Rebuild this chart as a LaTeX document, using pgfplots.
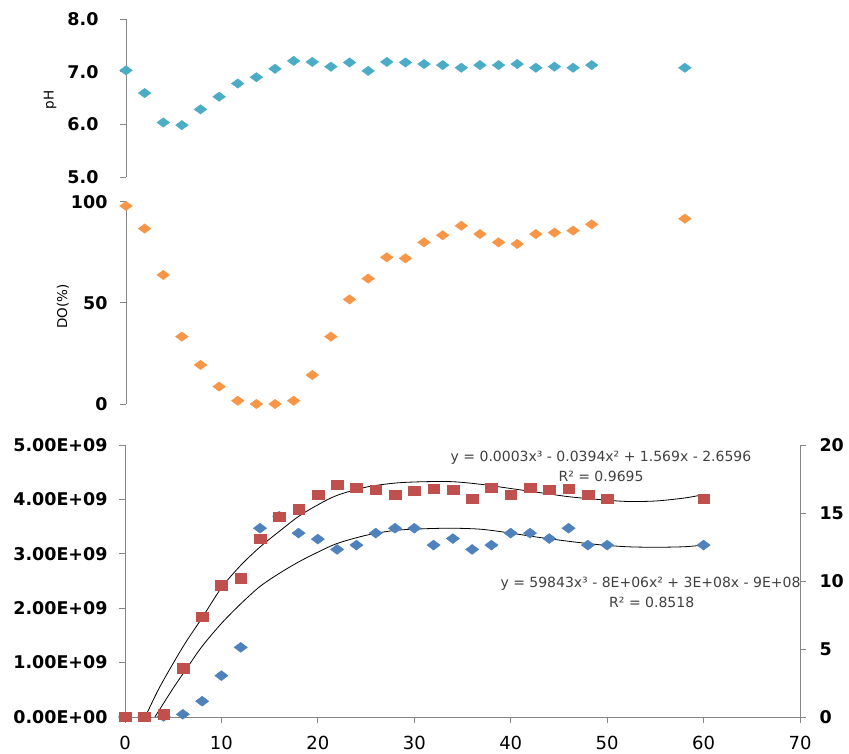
\documentclass[border=0pt]{standalone}
\usepackage{pgfplots}
\pgfplotsset{compat=1.18}
\usepackage{fontspec}
\setmainfont{DejaVu Sans}

\definecolor{phcyan}{RGB}{75,172,198}
\definecolor{doorange}{RGB}{247,150,70}
\definecolor{cellblue}{RGB}{79,129,189}
\definecolor{cellred}{RGB}{192,80,77}
\definecolor{axisgray}{RGB}{134,134,134}

\newcommand{\tickfont}{\fontsize{17.5bp}{20bp}\selectfont\bfseries}
\newcommand{\xtickfont}{\fontsize{18bp}{20bp}\selectfont}
\newcommand{\eqfont}{\fontsize{14bp}{16bp}\selectfont}
\newcommand{\labfont}{\fontsize{13.5bp}{15bp}\selectfont}

\pgfplotsset{
  panel/.style={
    scale only axis, enlargelimits=false, clip=false,
    axis line style={draw=axisgray, line width=0.9bp, -},
    every tick/.style={draw=axisgray, line width=0.9bp},
    tick align=outside, major tick length=6bp,
    /pgf/number format/assume math mode=true,
    xmin=0, xmax=70,
  },
}

% pH readings
\pgfplotstableread{
t   ph
0   7.03
2   6.60
4   6.04
6   5.99
8   6.29
10  6.53
12  6.78
14  6.90
16  7.06
18  7.21
20  7.19
22  7.10
24  7.18
26  7.02
28  7.19
30  7.18
32  7.15
34  7.13
36  7.08
38  7.13
40  7.13
42  7.15
44  7.08
46  7.10
48  7.08
50  7.13
60  7.08
}\phdata

% dissolved oxygen, percent saturation
\pgfplotstableread{
t   do
0   97.9
2   86.7
4   63.8
6   33.3
8   19.3
10  8.6
12  1.6
14  0
16  0
18  1.6
20  14.3
22  33.3
24  51.7
26  62.0
28  72.5
30  72.0
32  79.9
34  83.4
36  88.1
38  84.0
40  79.9
42  79.1
44  84.0
46  84.7
48  85.7
50  88.8
60  91.6
}\dodata

% cell counts (left axis) and second quantity (right axis)
\pgfplotstableread{
t   cells    right
0   0        0
2   0        0
4   0.01e9   0.2
6   0.05e9   3.58
8   0.29e9   7.38
10  0.76e9   9.70
12  1.28e9   10.2
14  3.47e9   13.1
16  3.69e9   14.73
18  3.38e9   15.29
20  3.27e9   16.37
22  3.08e9   17.06
24  3.16e9   16.86
26  3.38e9   16.69
28  3.47e9   16.37
30  3.47e9   16.64
32  3.16e9   16.80
34  3.28e9   16.69
36  3.08e9   16.05
38  3.16e9   16.86
40  3.38e9   16.35
42  3.38e9   16.86
44  3.28e9   16.69
46  3.47e9   16.79
48  3.16e9   16.37
50  3.16e9   16.05
60  3.16e9   16.05
}\growth

\begin{document}
\begin{tikzpicture}[x=1bp,y=1bp]
\path[use as bounding box] (0,0) rectangle (849,754);

% ---- pH ----
\begin{axis}[panel, at={(126bp,576.7bp)}, anchor=south west,
  width=652bp, height=158bp, ymin=5, ymax=8,
  hide x axis, axis y line*=left,
  ytick={5,6,7,8},
  yticklabel style={font=\tickfont, xshift=-18bp,
    /pgf/number format/.cd, fixed, fixed zerofill, precision=1}]
\addplot[only marks, mark=diamond*, mark size=4.7bp,
  mark options={xscale=1.8, fill=phcyan, draw=phcyan}] table[x=t, y=ph] {\phdata};
\end{axis}

% ---- DO ----
\begin{axis}[panel, at={(126bp,350bp)}, anchor=south west,
  width=652bp, height=202.3bp, ymin=0, ymax=100,
  hide x axis, axis y line*=left,
  ytick={0,50,100},
  yticklabel style={font=\tickfont, xshift=-9bp}]
\addplot[only marks, mark=diamond*, mark size=4.7bp,
  mark options={xscale=1.8, fill=doorange, draw=doorange}] table[x=t, y=do] {\dodata};
\end{axis}

% ---- growth, left axis ----
\begin{axis}[panel, at={(125bp,37bp)}, anchor=south west,
  width=675bp, height=272bp, ymin=0, ymax=5e9,
  axis x line*=bottom, axis y line*=left,
  xtick={0,10,...,70},
  xticklabel style={font=\xtickfont, yshift=-10bp},
  ytick={0,1e9,2e9,3e9,4e9,5e9},
  yticklabels={0.00E+00,1.00E+09,2.00E+09,3.00E+09,4.00E+09,5.00E+09},
  scaled y ticks=false,
  yticklabel style={font=\tickfont, xshift=-8bp}]
\addplot[only marks, mark=diamond*, mark size=5bp,
  mark options={xscale=1.77, fill=cellblue, draw=cellblue}] table[x=t, y=cells] {\growth};
\addplot[black, line width=0.8bp, smooth, no marks] coordinates {
  (3.1,0) (5,0.53e9) (6.5,0.92e9) (8,1.3e9) (10,1.72e9) (12,2.08e9)
  (14,2.4e9) (16,2.64e9) (18,2.85e9) (20,3.03e9) (22,3.19e9) (25,3.34e9)
  (28,3.43e9) (31,3.46e9) (34,3.47e9) (37,3.45e9) (40,3.38e9) (43,3.3e9)
  (46,3.23e9) (49,3.17e9) (52,3.13e9) (55,3.12e9) (58,3.13e9) (60,3.16e9)};
\end{axis}

% ---- growth, right axis ----
\begin{axis}[panel, at={(125bp,37bp)}, anchor=south west,
  width=675bp, height=272bp, ymin=0, ymax=20,
  hide x axis, axis y line*=right,
  ytick={0,5,10,15,20},
  yticklabel style={font=\tickfont, xshift=10bp}]
\addplot[only marks, mark=square*, mark size=4.65bp,
  mark options={xscale=1.26, fill=cellred, draw=cellred}] table[x=t, y=right] {\growth};
\addplot[black, line width=0.8bp, smooth, no marks] coordinates {
  (2.1,0) (3.6,2.2) (6,5.15) (8,7.3) (10,9.5) (12,11.15) (14,12.5)
  (16,13.65) (18,14.75) (20,15.6) (22,16.3) (25,16.9) (28,17.2) (31,17.3)
  (34,17.3) (37,17.1) (40,16.8) (43,16.5) (46,16.2) (49,16.0) (52,15.85)
  (55,15.88) (58,16.1) (60,16.35)};
\end{axis}

% axis titles and trendline equations
\node[rotate=90, font=\labfont] at (50,654) {pH};
\node[rotate=90, font=\labfont] at (63,447.3) {DO(\%)};
\node[font=\eqfont, text=black!75] at (601,296.7) {y = 0.0003x³ - 0.0394x² + 1.569x - 2.6596};
\node[font=\eqfont, text=black!75] at (601,277.3) {R² = 0.9695};
\node[font=\eqfont, text=black!75] at (650.5,170.7) {y = 59843x³ - 8E+06x² + 3E+08x - 9E+08};
\node[font=\eqfont, text=black!75] at (651.7,151.3) {R² = 0.8518};
\end{tikzpicture}
\end{document}
